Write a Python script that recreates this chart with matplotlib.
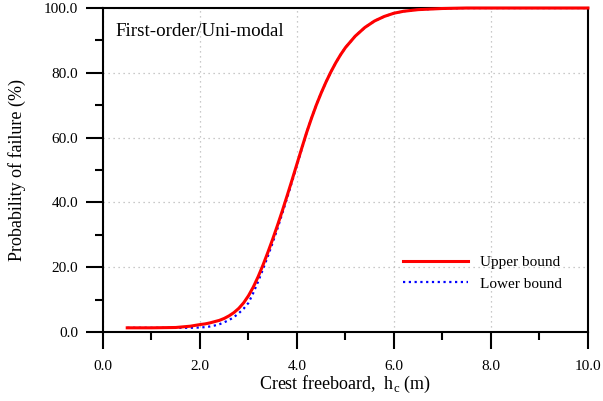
import matplotlib
matplotlib.use("Agg")
import matplotlib.pyplot as plt
from matplotlib.ticker import MultipleLocator, FormatStrFormatter

plt.rcParams['font.family'] = ['Liberation Serif', 'DejaVu Serif']

# Crest freeboard (m)
hc = [0.5, 1.0, 1.5, 1.8, 2.0, 2.1, 2.2, 2.3, 2.4, 2.5, 2.6, 2.7, 2.8, 2.9,
      3.0, 3.1, 3.2, 3.3, 3.4, 3.5, 3.6, 3.7, 3.8, 3.9, 4.0, 4.1, 4.2, 4.3,
      4.4, 4.5, 4.6, 4.7, 4.8, 4.9, 5.0, 5.2, 5.4, 5.6, 5.8, 6.0, 6.2, 6.5,
      7.0, 7.5, 8.0, 9.0, 10.0]

# Probability of failure (%)
upper_bound = [1.3, 1.3, 1.4, 1.8, 2.3, 2.5, 2.8, 3.2, 3.6, 4.2, 5.0, 6.0,
               7.3, 9.0, 11.2, 13.9, 17.1, 20.7, 24.6, 28.7, 33.0, 37.5,
               42.2, 47.0, 51.9, 56.8, 61.6, 66.0, 70.1, 73.8, 77.2, 80.3,
               83.1, 85.6, 87.8, 91.3, 94.0, 96.0, 97.4, 98.4, 99.0, 99.5,
               99.85, 100.0, 100.0, 100.0, 100.0]
lower_bound = [1.3, 1.3, 1.3, 1.3, 1.4, 1.5, 1.7, 2.0, 2.4, 3.0, 3.7, 4.6,
               5.8, 7.2, 9.0, 12.1, 15.6, 19.4, 23.4, 27.6, 32.0, 36.7,
               41.5, 46.5, 51.5, 56.5, 61.6, 66.0, 70.1, 73.8, 77.2, 80.3,
               83.1, 85.6, 87.8, 91.3, 94.0, 96.0, 97.4, 98.4, 99.0, 99.5,
               99.85, 100.0, 100.0, 100.0, 100.0]

fig = plt.figure(figsize=(6.03, 4.01), dpi=100)
ax = fig.add_axes([0.1708, 0.172, 0.8042, 0.808])

ax.plot(hc, lower_bound, color='blue', lw=1.6, ls=(0, (1, 1.6)),
        label='Lower bound', zorder=3)
ax.plot(hc, upper_bound, color='red', lw=2.2, label='Upper bound', zorder=4,
        clip_on=False)

ax.set_xlim(0, 10)
ax.set_ylim(0, 100)
ax.xaxis.set_major_locator(MultipleLocator(2))
ax.xaxis.set_minor_locator(MultipleLocator(1))
ax.yaxis.set_major_locator(MultipleLocator(20))
ax.yaxis.set_minor_locator(MultipleLocator(10))
ax.xaxis.set_major_formatter(FormatStrFormatter('%.1f'))
ax.yaxis.set_major_formatter(FormatStrFormatter('%.1f'))

ax.tick_params(which='major', direction='out', length=12, width=1.5,
               labelsize=11, top=False, right=False)
ax.tick_params(which='minor', direction='out', length=6, width=1.5,
               top=False, right=False)
ax.tick_params(axis='y', which='major', pad=6)
ax.tick_params(axis='x', which='major', pad=8)
for s in ax.spines.values():
    s.set_linewidth(1.5)

ax.grid(True, which='major', color='#b8b8b8', ls=(0, (1, 3)), lw=0.9)

ax.set_xlabel(r'Crest freeboard,  h$_\mathregular{c}$ (m)', fontsize=13,
              labelpad=1)
ax.set_ylabel('Probability of failure (%)', fontsize=13, labelpad=13)

ax.text(0.025, 0.955, 'First-order/Uni-modal', transform=ax.transAxes,
        fontsize=13.7, va='top', ha='left')

handles, labels = ax.get_legend_handles_labels()
ax.legend(handles[::-1], labels[::-1], loc='lower right', frameon=False,
          fontsize=11, bbox_to_anchor=(0.975, 0.085), handlelength=4.25,
          handletextpad=0.8, labelspacing=0.5)

fig.savefig('out.png', dpi=100)
